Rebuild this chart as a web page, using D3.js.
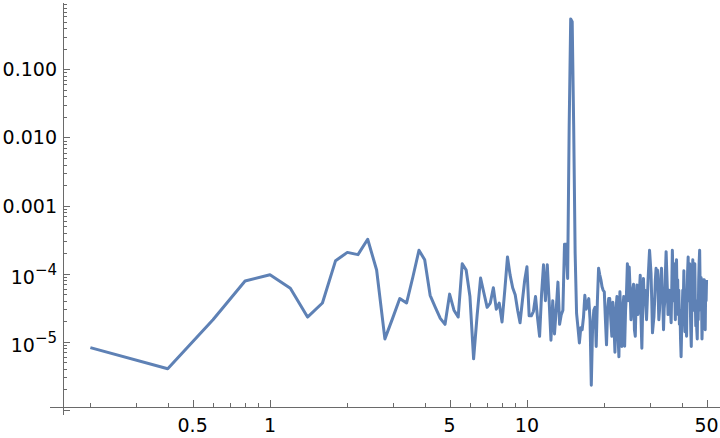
<!DOCTYPE html>
<html>
<head>
<meta charset="utf-8">
<script src="https://cdn.jsdelivr.net/npm/d3@7"></script>
<style>
    body { margin: 0; background: #fff; }
    svg { display: block; }
    text { font-family: "DejaVu Sans", sans-serif; fill: #000; }
</style>
</head>
<body>
<svg width="720" height="438"></svg>
<script>
// frequency spacing of the spectrum (first point sits at one step)
var freqStep = 0.2;

// power values, one per frequency step
var power0to10 = [
    8.2e-6, 4.0e-6, 2.1e-5, 7.8e-5, 9.6e-5, 6.1e-5, 2.3e-5, 3.7e-5, 1.55e-4, 2.05e-4,
    1.9e-4, 3.2e-4, 1.13e-4, 1.1e-5, 2.2e-5, 4.3e-5, 3.7e-5, 9e-5, 2.2e-4, 1.6e-4,
    4.8e-5, 3.2e-5, 2.2e-5, 1.8e-5, 5e-5, 2.9e-5, 2.3e-5, 1.4e-4, 1.13e-4, 4.6e-5,
    5.6e-6, 2.45e-5, 8.6e-5, 5.2e-5, 3.2e-5, 3.7e-5, 6.2e-5, 3.0e-5, 3.7e-5, 1.95e-5,
    5.7e-5, 1.76e-4, 9.5e-5, 6.2e-5, 4.9e-5, 2.9e-5, 1.9e-5, 4e-5, 8e-5, 1.26e-4
];
var power10to20 = [
    2.4e-5, 2.4e-5, 2.8e-5, 4.6e-5, 2.2e-5, 1.2e-5, 5e-5, 1.35e-4, 4e-5, 1.35e-4,
    4e-5, 1.05e-5, 4e-5, 1.3e-5, 3e-5, 7.5e-5, 1.8e-5, 2.5e-5, 2.9e-5, 2.7e-4,
    2.7e-4, 8.5e-5, 1.5e-2, 0.55, 0.5, 1.5e-2, 2e-4, 2.6e-5, 1.6e-5, 9.6e-6,
    1.6e-5, 1.5e-5, 2.3e-5, 4.8e-5, 3e-5, 3.7e-5, 4.3e-5, 2.1e-5, 2.3e-6, 1.5e-5,
    2.9e-5, 3.2e-5, 8.5e-6, 4e-5, 1.2e-4, 9.6e-5, 8.1e-5, 6.4e-5, 5.7e-5, 5.4e-5
];
var power20to30 = [
    2.1e-5, 9e-6, 2.9e-5, 4.3e-5, 4.3e-5, 2.1e-5, 1.2e-5, 3.8e-5, 1.8e-5, 7e-6,
    2.9e-5, 4.6e-5, 1.3e-5, 6e-6, 5.4e-5, 2.1e-5, 8.5e-6, 2.9e-5, 4.6e-5, 8.6e-6,
    2.9e-5, 5.2e-5, 1.4e-4, 4e-5, 1.25e-4, 6e-5, 2.1e-5, 3.2e-5, 5.7e-5, 7e-5,
    1.5e-5, 1.2e-5, 4e-5, 6.8e-5, 2.5e-5, 3.2e-5, 5.7e-5, 9.5e-5, 2.1e-5, 8e-6,
    2.9e-5, 8.5e-5, 4e-5, 5.7e-5, 3.4e-5, 2.1e-5, 4e-5, 8.1e-5, 1.35e-4, 2.2e-4
];
var power30to40 = [
    1.5e-4, 1e-4, 4e-5, 1.35e-5, 1.8e-5, 2.3e-5, 4e-5, 8.1e-5, 1.2e-4, 6.8e-5,
    1.13e-4, 4.8e-5, 2.1e-5, 2.9e-5, 5.7e-5, 9.5e-5, 1.2e-4, 5.7e-5, 3.4e-5, 1.5e-5,
    3.1e-5, 4e-5, 1.1e-4, 2.1e-4, 1.1e-4, 5.7e-5, 2.5e-5, 4e-5, 5.7e-5, 4e-5,
    2.9e-5, 1.9e-5, 5.7e-5, 2.2e-4, 9.5e-5, 4e-5, 1.4e-4, 5.7e-5, 2.1e-5, 8.1e-5,
    1.6e-4, 4e-5, 8.1e-5, 2.5e-5, 5.7e-5, 1.8e-5, 2.9e-5, 1.1e-5, 6e-6, 1.5e-5
];
var power40to50 = [
    2.9e-5, 5.7e-5, 4e-5, 1.1e-4, 2.9e-5, 1.4e-5, 4e-5, 2.1e-5, 1.2e-5, 5.7e-5,
    1.1e-4, 1.75e-4, 4e-5, 8.1e-5, 1.4e-4, 4e-5, 1.5e-5, 8.5e-6, 2.9e-5, 8.1e-5,
    1.6e-4, 5.7e-5, 2.9e-5, 8.1e-5, 1.4e-4, 4e-5, 1.7e-5, 2.9e-5, 1.5e-5, 1.1e-5,
    4e-5, 2.1e-5, 8.1e-5, 1.5e-4, 2.2e-4, 6.8e-5, 2.9e-5, 8.8e-5, 4e-5, 1.1e-5,
    2.1e-5, 4e-5, 8.1e-5, 4e-5, 8.1e-5, 2.1e-5, 1.5e-5, 5.7e-5, 4e-5, 8.1e-5
];

// tick marks
var xMajorTicks = [0.5, 1, 5, 10, 50];
var xMinorTicks = [0.2, 0.3, 0.4, 0.6, 0.7, 0.8, 0.9, 2, 3, 4, 6, 7, 8, 9, 20, 30, 40];
var yMajorTicks = [1e-1, 1e-2, 1e-3, 1e-4, 1e-5, 1e-6];
var yTickLabels = ["0.100", "0.010", "0.001", "10|4", "10|5", ""];

var power = power0to10.concat(power10to20, power20to30, power30to40, power40to50);
var data = power.map(function (p, i) { return { f: (i + 1) * freqStep, p: p }; });

var lineColor = "#5e81b5",
    axisColor = "#6a6a6a";

var svg = d3.select("svg");

// log scales for both axes
var x = d3.scaleLog().domain([0.1565, 56.4]).range([63, 720]);
var y = d3.scaleLog().domain([1.1e-6, 0.91]).range([407, 4]);

var axisX = 63, axisY = 407;

// ****************** axes ***************************
var axes = svg.append("g").attr("stroke", axisColor).attr("stroke-width", 1).attr("shape-rendering", "crispEdges");

axes.append("line")
    .attr("x1", 50).attr("x2", 720)
    .attr("y1", axisY + 0.5).attr("y2", axisY + 0.5);

axes.append("line")
    .attr("x1", axisX + 0.5).attr("x2", axisX + 0.5)
    .attr("y1", 3).attr("y2", 415);

// x ticks point up into the plot
axes.selectAll("line.xmajor")
    .data(xMajorTicks)
    .enter().append("line")
    .attr("class", "xmajor")
    .attr("x1", function (d) { return Math.round(x(d)) + 0.5; })
    .attr("x2", function (d) { return Math.round(x(d)) + 0.5; })
    .attr("y1", axisY).attr("y2", axisY - 7);

axes.selectAll("line.xminor")
    .data(xMinorTicks)
    .enter().append("line")
    .attr("class", "xminor")
    .attr("x1", function (d) { return Math.round(x(d)) + 0.5; })
    .attr("x2", function (d) { return Math.round(x(d)) + 0.5; })
    .attr("y1", axisY).attr("y2", axisY - 4);

// y minor ticks: 2..9 in each decade that fits
var yMinorTicks = [];
[-6, -5, -4, -3, -2, -1].forEach(function (e) {
    for (var k = 2; k <= 9; k++) {
        var v = k * Math.pow(10, e);
        if (y(v) >= 3 && y(v) <= 415) yMinorTicks.push(v);
    }
});

axes.selectAll("line.ymajor")
    .data(yMajorTicks)
    .enter().append("line")
    .attr("class", "ymajor")
    .attr("x1", axisX).attr("x2", axisX + 7)
    .attr("y1", function (d) { return Math.round(y(d)) + 0.5; })
    .attr("y2", function (d) { return Math.round(y(d)) + 0.5; });

axes.selectAll("line.yminor")
    .data(yMinorTicks)
    .enter().append("line")
    .attr("class", "yminor")
    .attr("x1", axisX).attr("x2", axisX + 4)
    .attr("y1", function (d) { return Math.round(y(d)) + 0.5; })
    .attr("y2", function (d) { return Math.round(y(d)) + 0.5; });

// x labels
svg.selectAll("text.xlab")
    .data(xMajorTicks)
    .enter().append("text")
    .attr("class", "xlab")
    .attr("x", function (d) { return x(d); })
    .attr("y", 432)
    .attr("text-anchor", "middle")
    .style("font-size", "19px")
    .text(function (d) { return d; });

// y labels, powers of ten get a superscript
yMajorTicks.forEach(function (v, i) {
    var lab = yTickLabels[i];
    if (!lab) return;
    var t = svg.append("text")
        .attr("x", 57)
        .attr("y", y(v) + 7)
        .attr("text-anchor", "end")
        .style("font-size", "19px");
    if (lab.indexOf("|") < 0) {
        t.text(lab);
    } else {
        var parts = lab.split("|");
        t.attr("y", y(v) + 10);
        t.append("tspan").text(parts[0]);
        t.append("tspan")
            .attr("dy", -9)
            .style("font-size", "15px")
            .text("\u2212" + parts[1]);
    }
});

// ****************** spectrum line ***************************
var line = d3.line()
    .x(function (d) { return x(d.f); })
    .y(function (d) { return y(d.p); });

svg.append("path")
    .datum(data)
    .attr("fill", "none")
    .attr("stroke", lineColor)
    .attr("stroke-width", 3)
    .attr("stroke-linejoin", "round")
    .attr("d", line);
</script>
</body>
</html>
